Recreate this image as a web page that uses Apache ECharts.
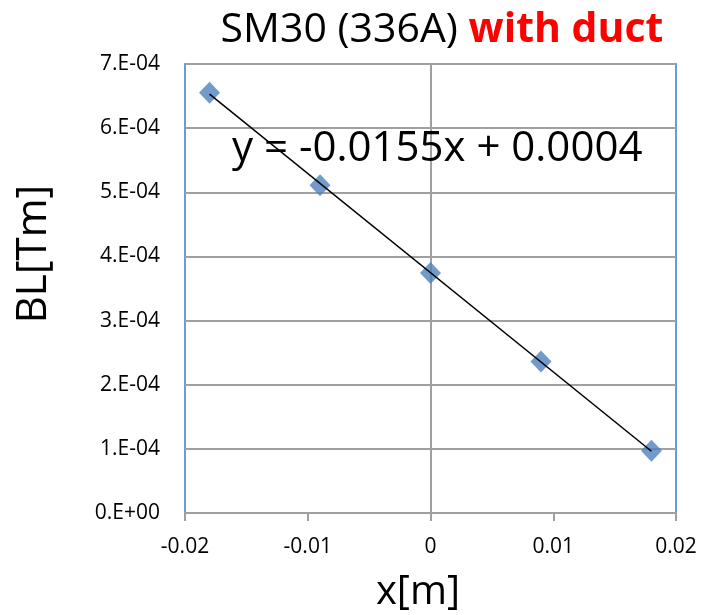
<!DOCTYPE html>
<html>
<head>
<meta charset="utf-8">
<script src="https://cdn.jsdelivr.net/npm/echarts@6/dist/echarts.min.js"></script>
<style>
html,body{margin:0;padding:0;background:#fff;}
#chart{width:702px;height:615px;}
</style>
</head>
<body>
<div id="chart"></div>
<script>
const xValues = [-0.018, -0.009, 0, 0.009, 0.018];
const blValues = [6.55e-4, 5.11e-4, 3.74e-4, 2.36e-4, 0.97e-4];
const trendX = [-0.018, 0.018];
const trendY = [6.53e-4, 0.963e-4];
const xTickLabels = ['-0.02', '-0.01', '0', '0.01', '0.02'];
const yTickLabels = ['0.E+00', '1.E-04', '2.E-04', '3.E-04', '4.E-04', '5.E-04', '6.E-04', '7.E-04'];
const titleMain = 'SM30 (336A) ';
const titleRed = 'with duct';
const equationText = 'y = -0.0155x + 0.0004';
const xTitle = 'x[m]';
const yTitle = 'BL[Tm]';

const FONT = '"Open Sans", "Noto Sans", sans-serif';
const GRAY = '#a0a0a0';

const chart = echarts.init(document.getElementById('chart'), null, {renderer: 'canvas'});
const option = {
  animation: false,
  backgroundColor: '#ffffff',
  grid: {left: 185, right: 26, top: 64, bottom: 102, show: true, borderColor: '#6a9bd6', borderWidth: 2, containLabel: false},
  xAxis: {
    type: 'value', min: -0.02, max: 0.02, interval: 0.01,
    axisLine: {show: true, onZero: false, lineStyle: {color: GRAY, width: 2}},
    axisTick: {show: true, length: 8, lineStyle: {color: GRAY, width: 2}},
    splitLine: {show: false},
    axisLabel: {
      margin: 24, color: '#000', fontFamily: FONT, fontSize: 21,
      formatter: function (v) { return xTickLabels[Math.round(v / 0.01) + 2]; }
    }
  },
  yAxis: [
    {
      type: 'value', min: 0, max: 7e-4, interval: 1e-4,
      axisLine: {show: false}, axisTick: {show: false},
      splitLine: {show: true, lineStyle: {color: GRAY, width: 2}},
      axisLabel: {
        margin: 25, color: '#000', fontFamily: FONT, fontSize: 21,
        formatter: function (v) { return yTickLabels[Math.round(v / 1e-4)]; }
      }
    },
    {
      type: 'value', min: 0, max: 7e-4, interval: 1e-4, position: 'left',
      axisLine: {show: true, onZero: true, onZeroAxisIndex: 0, lineStyle: {color: GRAY, width: 2}},
      axisTick: {show: true, length: 8, lineStyle: {color: GRAY, width: 2}},
      axisLabel: {show: false}, splitLine: {show: false}
    }
  ],
  series: [
    {
      type: 'scatter', yAxisIndex: 0,
      data: xValues.map((x, i) => [x, blValues[i]]),
      symbol: 'diamond', symbolSize: [21, 22],
      itemStyle: {color: '#4f81bd'}, z: 3
    },
    {
      type: 'line', yAxisIndex: 0,
      data: trendX.map((x, i) => [x, trendY[i]]),
      showSymbol: false, symbol: 'none',
      lineStyle: {color: '#000', width: 1.5}, z: 4
    }
  ],
  graphic: [
    {
      type: 'text', x: 442, y: 30, z: 10,
      style: {
        text: '{a|' + titleMain + '}{b|' + titleRed + '}',
        align: 'center', verticalAlign: 'middle', textAlign: 'center', textVerticalAlign: 'middle',
        rich: {
          a: {fontFamily: FONT, fontSize: 41, fill: '#000', color: '#000'},
          b: {fontFamily: FONT, fontSize: 41, fontWeight: 'bold', fill: '#ff0000', color: '#ff0000'}
        }
      }
    },
    {
      type: 'text', x: 232, y: 149, z: 10,
      style: {text: equationText, fontFamily: FONT, fontSize: 42, fill: '#000', align: 'left', verticalAlign: 'middle', textAlign: 'left', textVerticalAlign: 'middle'}
    },
    {
      type: 'text', x: 418, y: 593, z: 10,
      style: {text: xTitle, fontFamily: FONT, fontSize: 40, fill: '#000', align: 'center', verticalAlign: 'middle', textAlign: 'center', textVerticalAlign: 'middle'}
    },
    {
      type: 'text', x: 34, y: 254, rotation: Math.PI / 2, z: 10,
      style: {text: yTitle, fontFamily: FONT, fontSize: 42, fill: '#000', align: 'center', verticalAlign: 'middle', textAlign: 'center', textVerticalAlign: 'middle'}
    }
  ]
};
chart.setOption(option);
</script>
</body>
</html>
